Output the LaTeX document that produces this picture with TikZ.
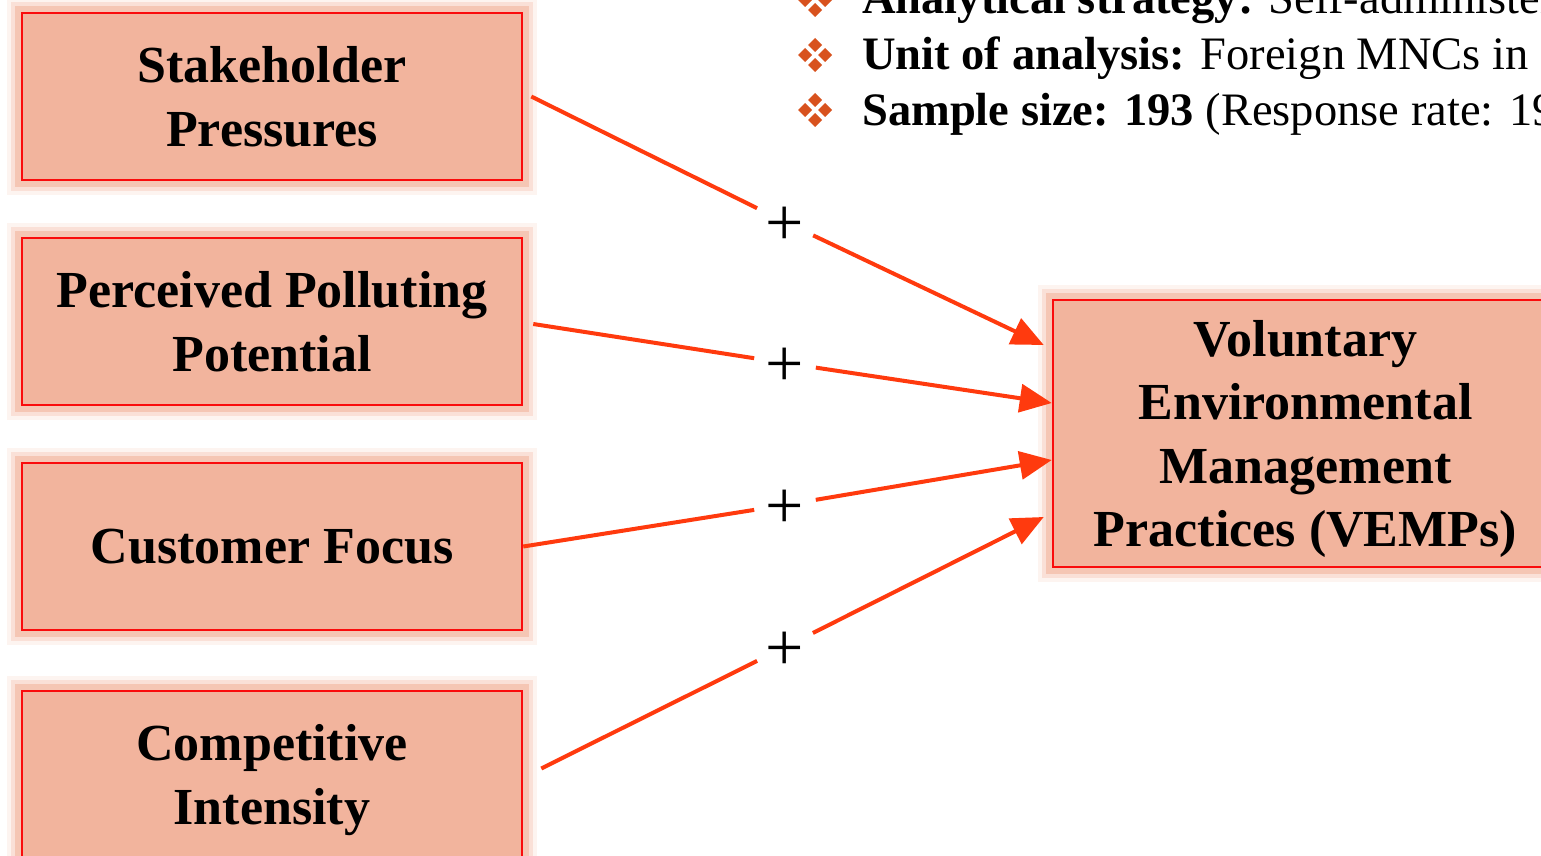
\documentclass[tikz,border=0pt]{standalone}
\usepackage{fontspec}
\setmainfont{Liberation Serif}
\usetikzlibrary{positioning,arrows.meta}

\definecolor{boxfill}{RGB}{242,180,157}
\definecolor{boxline}{RGB}{250,12,12}
\definecolor{linkred}{RGB}{255,58,14}
\definecolor{dotorange}{RGB}{216,82,30}

\begin{document}
\begin{tikzpicture}
  [x=1pt, y=-1pt, node distance=55.5pt,
   factor/.style={fill=boxfill, draw=boxline, line width=2.5pt,
     minimum width=500pt, minimum height=167pt, align=center, text depth=0pt,
     font=\fontsize{52}{63.5}\selectfont\bfseries,
     preaction={draw=boxfill, line width=30pt, opacity=0.15, rounded corners=10pt},
     preaction={draw=boxfill, line width=22pt, opacity=0.3, rounded corners=7pt},
     preaction={draw=boxfill, line width=14pt, opacity=0.6, rounded corners=4pt}},
   sign/.style={circle, inner sep=0pt, minimum size=62pt,
     font=\fontsize{68}{68}\selectfont},
   link/.style={draw=linkred, line width=4pt, -{Triangle[length=32pt,width=28pt]}},
   info/.style={anchor=base west, inner sep=0pt, font=\fontsize{46.5}{55}\selectfont},
   dia/.pic={\foreach \dx/\dy in {0/-10,-10/0,10/0,0/10}
     \fill[dotorange] (\dx,\dy-7) -- (\dx+7,\dy) -- (\dx,\dy+7) -- (\dx-7,\dy) -- cycle;}]
  \useasboundingbox (0,0) rectangle (1541,856);
  \clip (0,0) rectangle (1541,856);

  % design notes
  \pic at (815,0) {dia};
  \node[info] (strat) at (862,14) {\textbf{Analytical strategy:} Self-administered};
  \pic at (815,55) {dia};
  \node[info] (unit) at (862,70) {\textbf{Unit of analysis:} Foreign MNCs in};
  \pic at (815,110) {dia};
  \node[info] (sample) at (862,125) {\textbf{Sample size: 193} (Response rate: 19};

  % drivers
  \node[factor] (stake) at (272,96.5) {Stakeholder\\Pressures};
  \node[factor, below=of stake] (pollute) {Perceived Polluting\\Potential};
  \node[factor, below=of pollute] (customer) {Customer Focus};
  \node[factor, below=of customer, yshift=-3pt] (compete) {Competitive\\Intensity};

  % outcome
  \node[factor, minimum width=505pt, minimum height=267pt] (vemp) at (1305.5,433.5)
    {Voluntary\\Environmental\\Management\\Practices (VEMPs)};

  \foreach \n/\y in {1/222,2/363,3/505,4/647}
    \node[sign] (p\n) at (785,\y) {\raisebox{-23pt}[0pt][0pt]{+}};

  \draw[link] ([xshift=8pt]stake.east) -- (p1) -- ([xshift=-8pt,yshift=88.5pt]vemp.west);
  \draw[link] ([xshift=10pt,yshift=-2.5pt]pollute.east) -- (p2) -- ([yshift=30.5pt]vemp.west);
  \draw[link] (customer.east) -- (p3) -- ([yshift=-26.5pt]vemp.west);
  \draw[link] ([xshift=18pt,yshift=6pt]compete.east) -- (p4) -- ([xshift=-8pt,yshift=-83.5pt]vemp.west);
\end{tikzpicture}
\end{document}
